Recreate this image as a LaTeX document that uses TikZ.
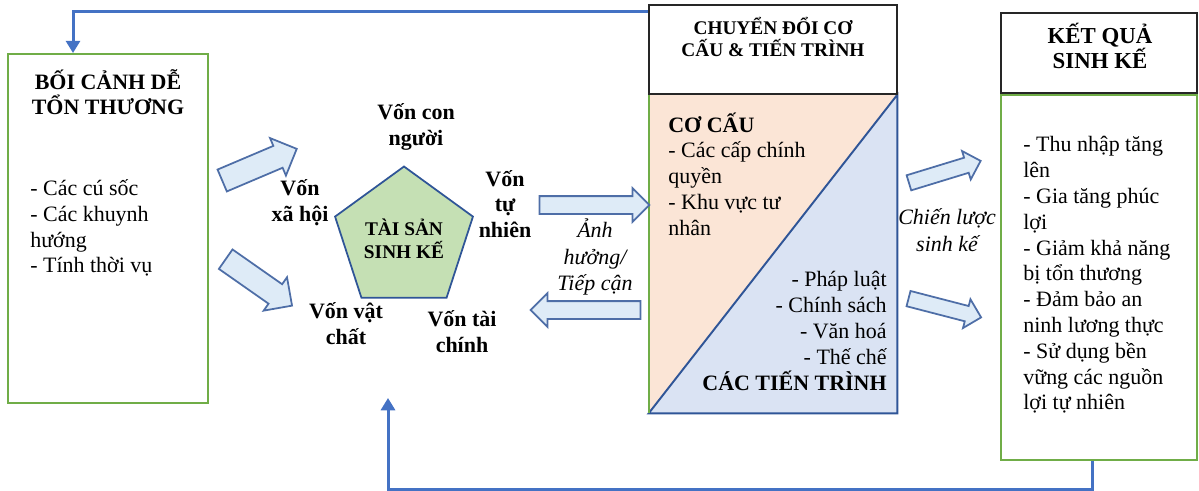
\documentclass[tikz,border=0pt]{standalone}
\usepackage{fontspec}
\setmainfont{Liberation Serif}
\usetikzlibrary{arrows.meta, positioning, shapes.geometric, shapes.arrows, calc}
\definecolor{frame}{HTML}{70AD47}
\definecolor{link}{HTML}{4472C4}
\definecolor{deep}{HTML}{2F5597}
\definecolor{pale}{HTML}{DEEBF7}
\definecolor{leaf}{HTML}{C5E0B4}
\definecolor{peach}{HTML}{FBE5D6}
\definecolor{sky}{HTML}{DAE3F3}

\begin{document}
\begin{tikzpicture}[
    x=0.02cm, y=-0.02cm,
    node distance=0pt,
    font=\fontsize{12.5}{14.7}\selectfont,
    panel/.style={draw=frame, line width=1.1pt, inner sep=0pt},
    headbox/.style={draw=black!85, line width=0.9pt, inner sep=0pt},
    hdr/.style={font=\fontsize{12.5}{14.2}\selectfont\bfseries, align=center, inner sep=0pt},
    item/.style={align=left, inner sep=0pt},
    capital/.style={font=\fontsize{12.5}{14.7}\selectfont\bfseries, align=center, inner sep=0pt},
    note/.style={font=\fontsize{12.5}{15}\selectfont\itshape, align=center, inner sep=0pt},
    fat/.style={single arrow, draw=deep!85, fill=pale, line width=1pt, inner xsep=0pt,
                inner ysep=0.2cm, single arrow head extend=0.17cm},
    flow/.style={draw=link, line width=1.7pt, -{Triangle[length=7pt,width=8pt]}},
]
    \useasboundingbox (0,0) rectangle (1199,490);

    % vulnerability context
    \node[panel, minimum width=4cm, minimum height=6.98cm] (context) at (108,228.5) {};
    \node[hdr] (contexttitle) at (108,92) {BỐI CẢNH DỄ\\TỔN THƯƠNG};
    \node[item, anchor=west] (contextlist) at (30,228)
         {- Các cú sốc\\- Các khuynh\\hướng\\- Tính thời vụ};

    % livelihood assets
    \node[regular polygon, regular polygon sides=5, minimum size=2.9cm, draw=deep, fill=leaf,
          line width=1pt, inner sep=0pt, align=center,
          font=\fontsize{11}{13}\selectfont\bfseries] (assets) at (404,239) {TÀI SẢN\\SINH KẾ};
    \node[capital] (human) at (416,127) {Vốn con\\người};
    \node[capital] (social) at (300,203) {Vốn\\xã hội};
    \node[capital] (natural) at (505,204) {Vốn\\tự\\nhiên};
    \node[capital] (physical) at (346,324) {Vốn vật\\chất};
    \node[capital] (financial) at (462,332) {Vốn tài\\chính};

    \node[fat, minimum height=1.62cm, inner ysep=0.22cm, rotate=23] (inup) at (254,167) {};
    \node[fat, minimum height=1.62cm, inner ysep=0.22cm, rotate=-35] (indown) at (254,279) {};

    % transforming structures and processes
    \node[minimum width=4.96cm, minimum height=6.36cm, inner sep=0pt] (transbody) at (773,254) {};
    \fill[peach] (transbody.north west) -- (transbody.north east) -- (transbody.south west) -- cycle;
    \filldraw[fill=sky, draw=deep, line width=1.1pt]
        (transbody.north east) -- (transbody.south east) -- (transbody.south west) -- cycle;
    \draw[frame, line width=1.1pt] (transbody.north west) -- (transbody.south west);
    \node[headbox, minimum width=4.96cm, minimum height=1.78cm, above=of transbody] (transhead) {};
    \node[hdr, font=\fontsize{11}{12}\selectfont\bfseries] (transtitle) at (773,37)
         {CHUYỂN ĐỔI CƠ\\CẤU \& TIẾN TRÌNH};
    \node[item, anchor=west] (structlist) at (668,174)
         {\textbf{CƠ CẤU}\\- Các cấp chính\\quyền\\- Khu vực tư\\nhân};
    \node[item, anchor=east, align=right] (proclist) at (887,331)
         {- Pháp luật\\- Chính sách\\- Văn hoá\\- Thế chế\\\textbf{CÁC TIẾN TRÌNH}};

    \node[fat, minimum height=2.2cm, inner ysep=0.16cm, single arrow head extend=0.16cm] (toproc) at (590,205) {};
    \node[fat, minimum height=2.2cm, inner ysep=0.16cm, single arrow head extend=0.16cm, rotate=180] (fromproc) at (590,310) {};
    \node[note] (access) at (595,257) {Ảnh\\hưởng/\\Tiếp cận};

    % livelihood outcomes
    \node[headbox, minimum width=3.92cm, minimum height=1.6cm] (outhead) at (1099,53) {};
    \node[panel, minimum width=3.92cm, minimum height=7.3cm, below=of outhead] (outbody) {};
    \node[hdr, font=\fontsize{13}{14.5}\selectfont\bfseries] (outtitle) at (1100,46) {KẾT QUẢ\\SINH KẾ};
    \node[item, anchor=west] (outlist) at (1023,275)
         {- Thu nhập tăng\\lên\\- Gia tăng phúc\\lợi\\- Giảm khả năng\\bị tổn thương\\- Đảm bảo an\\ninh lương thực\\- Sử dụng bền\\vững các nguồn\\lợi tự nhiên};

    \node[fat, minimum height=1.5cm, inner ysep=0.14cm, single arrow head extend=0.14cm,
          rotate=17] (stratup) at (941,173) {};
    \node[fat, minimum height=1.5cm, inner ysep=0.14cm, single arrow head extend=0.14cm,
          rotate=-14.5] (stratdown) at (941,307) {};
    \node[note] (strategy) at (947,230) {Chiến lược\\sinh kế};

    % feedback lines
    \coordinate (fbtop) at ([yshift=-0.14cm]transhead.north west);
    \draw[flow] (fbtop) -| ([xshift=-0.7cm]context.north);
    \coordinate (fbbot) at ([xshift=-0.14cm]outbody.south);
    \coordinate (assetin) at (388,398);
    \draw[flow] (fbbot) -- ++(0,29) -| (assetin);
\end{tikzpicture}
\end{document}
